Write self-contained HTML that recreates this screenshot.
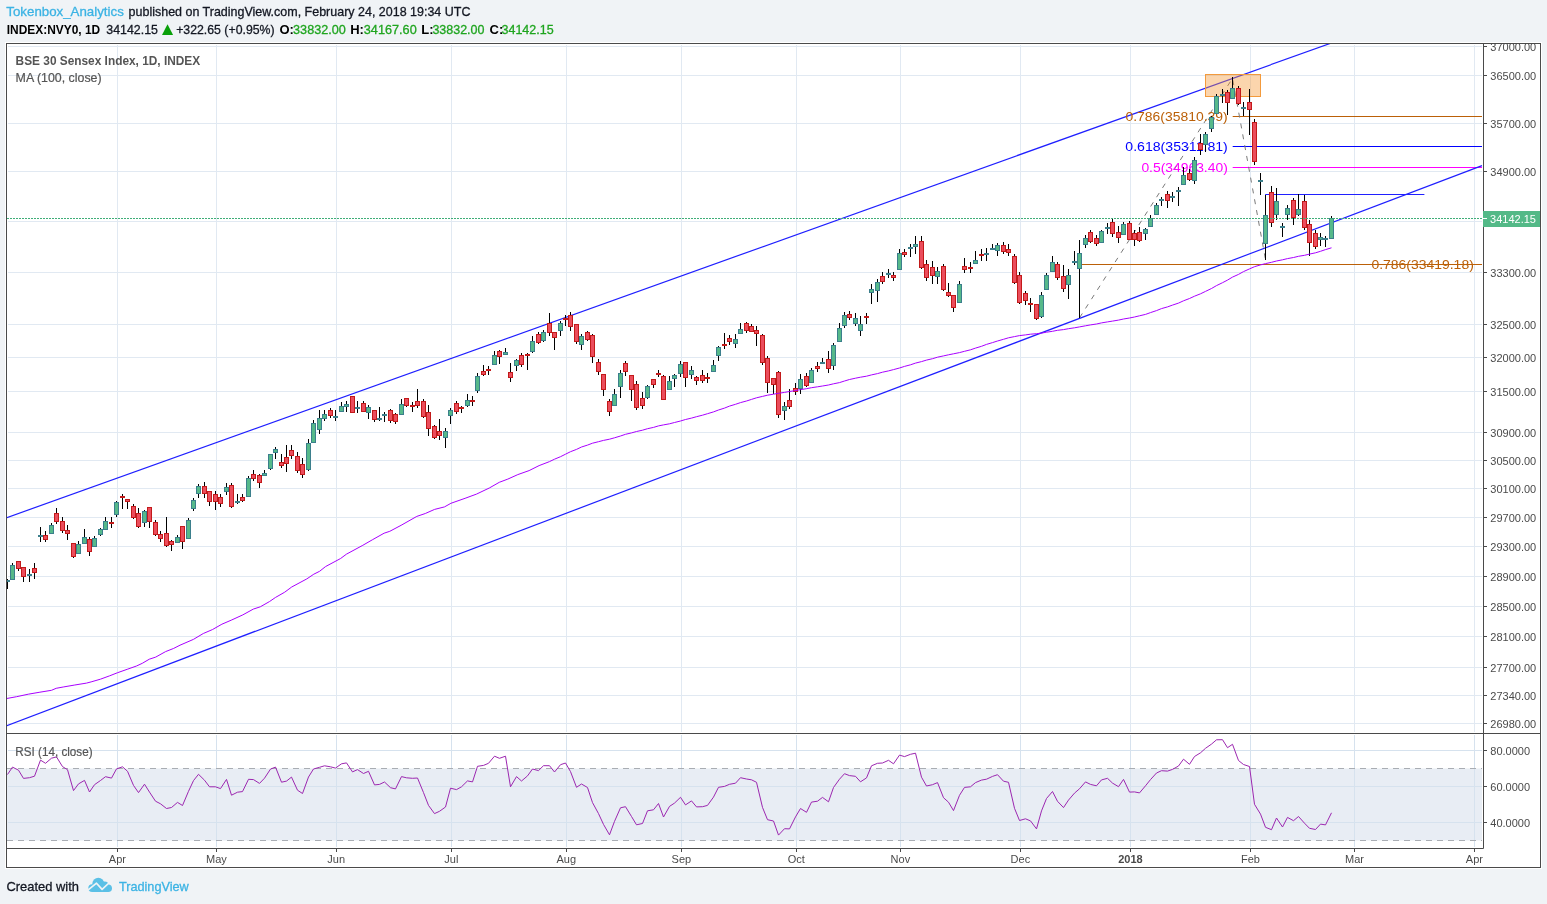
<!DOCTYPE html>
<html><head><meta charset="utf-8"><style>
html,body{margin:0;padding:0;background:#f0f3f6;width:1547px;height:904px;overflow:hidden}
svg{display:block;will-change:transform}
text{font-family:"Liberation Sans",sans-serif}
</style></head><body>
<svg width="1547" height="904" viewBox="0 0 1547 904">
<rect x="0" y="0" width="1547" height="904" fill="#f0f3f6"/>

<text x="6.3" y="16" font-size="13" fill="#3bb3e4" stroke="#3bb3e4" stroke-width="0.3" textLength="117.5" lengthAdjust="spacingAndGlyphs">Tokenbox_Analytics</text>
<text x="128.6" y="16" font-size="13" fill="#131722" stroke="#131722" stroke-width="0.3" textLength="341.8" lengthAdjust="spacingAndGlyphs">published on TradingView.com, February 24, 2018 19:34 UTC</text>
<text x="6.8" y="34" font-size="13" font-weight="bold" fill="#000" textLength="93.4" lengthAdjust="spacingAndGlyphs">INDEX:NVY0, 1D</text>
<text x="106.3" y="34" font-size="13" fill="#131722" stroke="#131722" stroke-width="0.3" textLength="51.6" lengthAdjust="spacingAndGlyphs">34142.15</text>
<path d="M162,35 L167.5,24.2 L173.1,35 Z" fill="#0aa00a"/>
<text x="176.2" y="34" font-size="13" fill="#131722" stroke="#131722" stroke-width="0.3" textLength="98.4" lengthAdjust="spacingAndGlyphs">+322.65 (+0.95%)</text>
<text x="279.5" y="34" font-size="13" font-weight="bold" fill="#000">O:</text>
<text x="293.1" y="34" font-size="13" fill="#1fa51f" stroke="#1fa51f" stroke-width="0.3" textLength="52.7" lengthAdjust="spacingAndGlyphs">33832.00</text>
<text x="350.2" y="34" font-size="13" font-weight="bold" fill="#000">H:</text>
<text x="363.8" y="34" font-size="13" fill="#1fa51f" stroke="#1fa51f" stroke-width="0.3" textLength="52.9" lengthAdjust="spacingAndGlyphs">34167.60</text>
<text x="421.3" y="34" font-size="13" font-weight="bold" fill="#000">L:</text>
<text x="432.4" y="34" font-size="13" fill="#1fa51f" stroke="#1fa51f" stroke-width="0.3" textLength="52.1" lengthAdjust="spacingAndGlyphs">33832.00</text>
<text x="489.5" y="34" font-size="13" font-weight="bold" fill="#000">C:</text>
<text x="501.5" y="34" font-size="13" fill="#1fa51f" stroke="#1fa51f" stroke-width="0.3" textLength="52.1" lengthAdjust="spacingAndGlyphs">34142.15</text>
<rect x="5" y="42" width="1537" height="827" fill="#fff" stroke="none"/>
<rect x="7" y="768.5" width="1475" height="72" fill="#e8edf4"/>
<line x1="8" x2="1482" y1="46.5" y2="46.5" stroke="#e1e9f2" stroke-width="1"/>
<line x1="8" x2="1482" y1="75.5" y2="75.5" stroke="#e1e9f2" stroke-width="1"/>
<line x1="8" x2="1482" y1="123.5" y2="123.5" stroke="#e1e9f2" stroke-width="1"/>
<line x1="8" x2="1482" y1="171.5" y2="171.5" stroke="#e1e9f2" stroke-width="1"/>
<line x1="8" x2="1482" y1="221.5" y2="221.5" stroke="#e1e9f2" stroke-width="1"/>
<line x1="8" x2="1482" y1="272.5" y2="272.5" stroke="#e1e9f2" stroke-width="1"/>
<line x1="8" x2="1482" y1="324.5" y2="324.5" stroke="#e1e9f2" stroke-width="1"/>
<line x1="8" x2="1482" y1="357.5" y2="357.5" stroke="#e1e9f2" stroke-width="1"/>
<line x1="8" x2="1482" y1="391.5" y2="391.5" stroke="#e1e9f2" stroke-width="1"/>
<line x1="8" x2="1482" y1="432.5" y2="432.5" stroke="#e1e9f2" stroke-width="1"/>
<line x1="8" x2="1482" y1="460.5" y2="460.5" stroke="#e1e9f2" stroke-width="1"/>
<line x1="8" x2="1482" y1="488.5" y2="488.5" stroke="#e1e9f2" stroke-width="1"/>
<line x1="8" x2="1482" y1="517.5" y2="517.5" stroke="#e1e9f2" stroke-width="1"/>
<line x1="8" x2="1482" y1="546.5" y2="546.5" stroke="#e1e9f2" stroke-width="1"/>
<line x1="8" x2="1482" y1="576.5" y2="576.5" stroke="#e1e9f2" stroke-width="1"/>
<line x1="8" x2="1482" y1="606.5" y2="606.5" stroke="#e1e9f2" stroke-width="1"/>
<line x1="8" x2="1482" y1="636.5" y2="636.5" stroke="#e1e9f2" stroke-width="1"/>
<line x1="8" x2="1482" y1="667.5" y2="667.5" stroke="#e1e9f2" stroke-width="1"/>
<line x1="8" x2="1482" y1="695.5" y2="695.5" stroke="#e1e9f2" stroke-width="1"/>
<line x1="8" x2="1482" y1="723.5" y2="723.5" stroke="#e1e9f2" stroke-width="1"/>
<line x1="8" x2="1482" y1="750.5" y2="750.5" stroke="#d6e2ee" stroke-width="1"/>
<line x1="8" x2="1482" y1="786.5" y2="786.5" stroke="#d6e2ee" stroke-width="1"/>
<line x1="8" x2="1482" y1="822.5" y2="822.5" stroke="#d6e2ee" stroke-width="1"/>
<line x1="117.5" x2="117.5" y1="45" y2="732" stroke="#e1e9f2" stroke-width="1"/>
<line x1="117.5" x2="117.5" y1="735" y2="847" stroke="#d6e2ee" stroke-width="1"/>
<line x1="216.5" x2="216.5" y1="45" y2="732" stroke="#e1e9f2" stroke-width="1"/>
<line x1="216.5" x2="216.5" y1="735" y2="847" stroke="#d6e2ee" stroke-width="1"/>
<line x1="336.5" x2="336.5" y1="45" y2="732" stroke="#e1e9f2" stroke-width="1"/>
<line x1="336.5" x2="336.5" y1="735" y2="847" stroke="#d6e2ee" stroke-width="1"/>
<line x1="451.5" x2="451.5" y1="45" y2="732" stroke="#e1e9f2" stroke-width="1"/>
<line x1="451.5" x2="451.5" y1="735" y2="847" stroke="#d6e2ee" stroke-width="1"/>
<line x1="566.5" x2="566.5" y1="45" y2="732" stroke="#e1e9f2" stroke-width="1"/>
<line x1="566.5" x2="566.5" y1="735" y2="847" stroke="#d6e2ee" stroke-width="1"/>
<line x1="681.5" x2="681.5" y1="45" y2="732" stroke="#e1e9f2" stroke-width="1"/>
<line x1="681.5" x2="681.5" y1="735" y2="847" stroke="#d6e2ee" stroke-width="1"/>
<line x1="796.5" x2="796.5" y1="45" y2="732" stroke="#e1e9f2" stroke-width="1"/>
<line x1="796.5" x2="796.5" y1="735" y2="847" stroke="#d6e2ee" stroke-width="1"/>
<line x1="900.5" x2="900.5" y1="45" y2="732" stroke="#e1e9f2" stroke-width="1"/>
<line x1="900.5" x2="900.5" y1="735" y2="847" stroke="#d6e2ee" stroke-width="1"/>
<line x1="1020.5" x2="1020.5" y1="45" y2="732" stroke="#e1e9f2" stroke-width="1"/>
<line x1="1020.5" x2="1020.5" y1="735" y2="847" stroke="#d6e2ee" stroke-width="1"/>
<line x1="1130.5" x2="1130.5" y1="45" y2="732" stroke="#e1e9f2" stroke-width="1"/>
<line x1="1130.5" x2="1130.5" y1="735" y2="847" stroke="#d6e2ee" stroke-width="1"/>
<line x1="1250.5" x2="1250.5" y1="45" y2="732" stroke="#e1e9f2" stroke-width="1"/>
<line x1="1250.5" x2="1250.5" y1="735" y2="847" stroke="#d6e2ee" stroke-width="1"/>
<line x1="1354.5" x2="1354.5" y1="45" y2="732" stroke="#e1e9f2" stroke-width="1"/>
<line x1="1354.5" x2="1354.5" y1="735" y2="847" stroke="#d6e2ee" stroke-width="1"/>
<line x1="1474.5" x2="1474.5" y1="45" y2="732" stroke="#e1e9f2" stroke-width="1"/>
<line x1="1474.5" x2="1474.5" y1="735" y2="847" stroke="#d6e2ee" stroke-width="1"/>
<line x1="7" x2="1482" y1="768.5" y2="768.5" stroke="#a9adb3" stroke-width="1" stroke-dasharray="6,5"/>
<line x1="7" x2="1482" y1="840.5" y2="840.5" stroke="#a9adb3" stroke-width="1" stroke-dasharray="6,5"/>
<defs><clipPath id="cm"><rect x="7" y="44" width="1476" height="689"/></clipPath><clipPath id="cr"><rect x="7" y="734" width="1476" height="114"/></clipPath><clipPath id="ct"><rect x="7" y="849" width="1476" height="18"/></clipPath></defs>
<g clip-path="url(#cm)">
<line x1="1081.6" x2="1482" y1="264.5" y2="264.5" stroke="#bb6008" stroke-width="1"/>
<line x1="1232.7" x2="1482" y1="116.5" y2="116.5" stroke="#bb6008" stroke-width="1"/>
<line x1="1232.7" x2="1482" y1="146.5" y2="146.5" stroke="#0000ff" stroke-width="1"/>
<line x1="1232.7" x2="1482" y1="167.5" y2="167.5" stroke="#ff00ff" stroke-width="1"/>
<line x1="1265.2" x2="1424.4" y1="194.5" y2="194.5" stroke="#2020ff" stroke-width="1"/>
<line x1="0.0" y1="520.1" x2="1400.0" y2="18.4" stroke="#1f1fff" stroke-width="1.2"/>
<line x1="0.0" y1="728.2" x2="1482.0" y2="165.6" stroke="#1f1fff" stroke-width="1.2"/>
<path d="M1079.6,317.7 L1232.5,78.3 L1265.3,258.5" stroke="#7a7a7a" stroke-width="1" fill="none" stroke-dasharray="5,6"/>
<rect x="1205.5" y="74.5" width="55" height="22" fill="rgba(245,150,50,0.4)" stroke="#f39a3c" stroke-width="1"/>
<text x="1125.5" y="120.6" font-size="12" fill="#bb6008" textLength="102.2" lengthAdjust="spacingAndGlyphs">0.786(35810.39)</text>
<text x="1125.3" y="150.6" font-size="12" fill="#0000ff" textLength="102.5" lengthAdjust="spacingAndGlyphs">0.618(35311.81)</text>
<text x="1141.4" y="171.6" font-size="12" fill="#ff00ff" textLength="86.4" lengthAdjust="spacingAndGlyphs">0.5(34963.40)</text>
<text x="1371.4" y="268.7" font-size="12" fill="#bb6008" textLength="102.4" lengthAdjust="spacingAndGlyphs">0.786(33419.18)</text>
<path d="M7.5,579V589 M12.5,563V580 M18.5,561V571 M23.5,567V582 M29.5,569V582 M34.5,563V579 M40.5,527V542 M45.5,531V542 M51.5,523V534 M56.5,508V524 M62.5,517V533 M67.5,525V540 M73.5,543V558 M78.5,541V554 M84.5,529V544 M89.5,537V556 M94.5,536V547 M100.5,528V536 M105.5,517V530 M111.5,517V528 M116.5,501V517 M122.5,494V509 M127.5,499V509 M133.5,504V519 M138.5,508V528 M144.5,510V527 M149.5,507V528 M155.5,520V536 M160.5,531V542 M166.5,517V547 M171.5,540V551 M177.5,535V543 M182.5,526V549 M188.5,518V539 M193.5,498V511 M198.5,484V498 M204.5,482V498 M209.5,491V506 M215.5,491V510 M220.5,494V507 M226.5,483V495 M231.5,483V508 M237.5,494V504 M242.5,494V502 M248.5,476V497 M253.5,470V481 M259.5,474V488 M264.5,470V476 M270.5,454V470 M275.5,447V459 M281.5,454V468 M286.5,445V472 M291.5,445V459 M297.5,452V473 M302.5,458V478 M308.5,439V471 M313.5,420V443 M319.5,410V434 M324.5,410V421 M330.5,408V418 M335.5,410V421 M341.5,402V412 M346.5,401V412 M352.5,396V413 M357.5,401V413 M363.5,401V412 M368.5,405V419 M374.5,410V422 M379.5,407V421 M384.5,412V422 M390.5,409V423 M395.5,413V424 M401.5,399V415 M406.5,398V407 M412.5,402V412 M417.5,389V408 M423.5,399V418 M428.5,405V436 M434.5,425V439 M439.5,419V440 M445.5,428V448 M450.5,408V424 M456.5,401V414 M461.5,406V413 M467.5,394V407 M472.5,396V406 M477.5,373V393 M483.5,365V376 M488.5,366V375 M494.5,351V365 M499.5,350V364 M505.5,348V355 M510.5,363V382 M516.5,359V371 M521.5,353V367 M527.5,353V370 M532.5,336V353 M538.5,332V344 M543.5,330V342 M549.5,313V336 M554.5,332V350 M560.5,321V336 M565.5,315V326 M570.5,312V331 M576.5,324V344 M581.5,334V350 M587.5,331V341 M592.5,334V363 M598.5,359V375 M603.5,374V396 M609.5,399V416 M614.5,389V406 M620.5,370V398 M625.5,361V376 M631.5,375V401 M636.5,381V410 M642.5,392V409 M647.5,385V399 M653.5,379V388 M658.5,370V377 M663.5,375V400 M669.5,376V390 M674.5,374V387 M680.5,361V377 M685.5,362V387 M691.5,366V379 M696.5,376V385 M702.5,370V383 M707.5,373V383 M713.5,360V372 M718.5,346V361 M724.5,333V349 M729.5,335V345 M735.5,334V348 M740.5,323V334 M746.5,322V333 M751.5,324V332 M756.5,326V346 M762.5,334V365 M767.5,356V393 M773.5,378V394 M778.5,371V418 M784.5,402V420 M789.5,389V409 M795.5,383V395 M800.5,374V394 M806.5,373V387 M811.5,368V383 M817.5,362V372 M822.5,358V364 M828.5,351V373 M833.5,343V370 M839.5,323V342 M844.5,312V328 M849.5,311V320 M855.5,313V326 M860.5,316V336 M866.5,313V324 M871.5,284V304 M877.5,279V302 M882.5,272V284 M888.5,269V278 M893.5,272V281 M899.5,249V270 M904.5,249V257 M910.5,244V257 M915.5,236V254 M921.5,236V269 M926.5,260V281 M932.5,261V284 M937.5,267V284 M943.5,264V291 M948.5,283V297 M953.5,295V312 M959.5,281V303 M964.5,258V273 M970.5,262V273 M975.5,251V264 M981.5,249V261 M986.5,248V261 M992.5,244V250 M997.5,243V256 M1003.5,242V254 M1008.5,244V256 M1014.5,254V284 M1019.5,272V304 M1025.5,291V305 M1030.5,298V312 M1036.5,304V320 M1041.5,292V318 M1046.5,273V290 M1052.5,256V272 M1057.5,262V280 M1063.5,265V292 M1068.5,269V299 M1074.5,251V265 M1079.5,240V318 M1085.5,235V248 M1090.5,230V243 M1096.5,235V246 M1101.5,230V243 M1107.5,223V234 M1112.5,218V237 M1118.5,226V243 M1123.5,222V235 M1129.5,221V240 M1134.5,230V246 M1139.5,227V242 M1145.5,228V240 M1150.5,215V227 M1156.5,203V215 M1161.5,197V206 M1167.5,191V208 M1172.5,192V202 M1178.5,187V206 M1183.5,167V185 M1189.5,169V181 M1194.5,157V184 M1200.5,134V155 M1205.5,132V152 M1211.5,116V132 M1216.5,94V114 M1222.5,89V103 M1227.5,90V115 M1232.5,77V99 M1238.5,86V105 M1243.5,102V116 M1249.5,89V135 M1254.5,119V165 M1260.5,173V195 M1265.5,195V260 M1271.5,186V227 M1276.5,188V220 M1282.5,223V237 M1287.5,205V220 M1293.5,198V225 M1298.5,194V216 M1304.5,195V230 M1309.5,220V256 M1315.5,230V249 M1320.5,233V246 M1325.5,236V247 M1331.5,216V239" stroke="#000" stroke-width="1" fill="none"/>
<rect x="7" y="580" width="3" height="2" fill="#3b7f8c"/>
<rect x="10" y="565" width="5" height="15" fill="#3b7f8c"/>
<rect x="11" y="566" width="3" height="13" fill="#56b98a"/>
<rect x="16" y="561" width="5" height="8" fill="#c21a1a"/>
<rect x="17" y="562" width="3" height="6" fill="#eb4d5c"/>
<rect x="21" y="567" width="5" height="10" fill="#c21a1a"/>
<rect x="22" y="568" width="3" height="8" fill="#eb4d5c"/>
<rect x="27" y="574" width="5" height="2" fill="#3b7f8c"/>
<rect x="32" y="568" width="5" height="5" fill="#c21a1a"/>
<rect x="33" y="569" width="3" height="3" fill="#eb4d5c"/>
<rect x="38" y="535" width="5" height="2" fill="#3b7f8c"/>
<rect x="43" y="535" width="5" height="5" fill="#c21a1a"/>
<rect x="44" y="536" width="3" height="3" fill="#eb4d5c"/>
<rect x="49" y="525" width="5" height="9" fill="#3b7f8c"/>
<rect x="50" y="526" width="3" height="7" fill="#56b98a"/>
<rect x="54" y="513" width="5" height="9" fill="#c21a1a"/>
<rect x="55" y="514" width="3" height="7" fill="#eb4d5c"/>
<rect x="60" y="521" width="5" height="10" fill="#c21a1a"/>
<rect x="61" y="522" width="3" height="8" fill="#eb4d5c"/>
<rect x="65" y="530" width="5" height="4" fill="#c21a1a"/>
<rect x="66" y="531" width="3" height="2" fill="#eb4d5c"/>
<rect x="71" y="543" width="5" height="14" fill="#c21a1a"/>
<rect x="72" y="544" width="3" height="12" fill="#eb4d5c"/>
<rect x="76" y="544" width="5" height="10" fill="#3b7f8c"/>
<rect x="77" y="545" width="3" height="8" fill="#56b98a"/>
<rect x="82" y="537" width="5" height="7" fill="#3b7f8c"/>
<rect x="83" y="538" width="3" height="5" fill="#56b98a"/>
<rect x="87" y="539" width="5" height="13" fill="#c21a1a"/>
<rect x="88" y="540" width="3" height="11" fill="#eb4d5c"/>
<rect x="92" y="538" width="5" height="9" fill="#3b7f8c"/>
<rect x="93" y="539" width="3" height="7" fill="#56b98a"/>
<rect x="98" y="529" width="5" height="6" fill="#3b7f8c"/>
<rect x="99" y="530" width="3" height="4" fill="#56b98a"/>
<rect x="103" y="521" width="5" height="9" fill="#3b7f8c"/>
<rect x="104" y="522" width="3" height="7" fill="#56b98a"/>
<rect x="109" y="522" width="5" height="2" fill="#c21a1a"/>
<rect x="114" y="502" width="5" height="13" fill="#3b7f8c"/>
<rect x="115" y="503" width="3" height="11" fill="#56b98a"/>
<rect x="120" y="496" width="5" height="2" fill="#c21a1a"/>
<rect x="125" y="499" width="5" height="3" fill="#c21a1a"/>
<rect x="126" y="500" width="3" height="1" fill="#eb4d5c"/>
<rect x="131" y="506" width="5" height="12" fill="#c21a1a"/>
<rect x="132" y="507" width="3" height="10" fill="#eb4d5c"/>
<rect x="136" y="513" width="5" height="14" fill="#c21a1a"/>
<rect x="137" y="514" width="3" height="12" fill="#eb4d5c"/>
<rect x="142" y="511" width="5" height="12" fill="#3b7f8c"/>
<rect x="143" y="512" width="3" height="10" fill="#56b98a"/>
<rect x="147" y="507" width="5" height="15" fill="#c21a1a"/>
<rect x="148" y="508" width="3" height="13" fill="#eb4d5c"/>
<rect x="153" y="522" width="5" height="13" fill="#c21a1a"/>
<rect x="154" y="523" width="3" height="11" fill="#eb4d5c"/>
<rect x="158" y="534" width="5" height="5" fill="#c21a1a"/>
<rect x="159" y="535" width="3" height="3" fill="#eb4d5c"/>
<rect x="164" y="533" width="5" height="13" fill="#c21a1a"/>
<rect x="165" y="534" width="3" height="11" fill="#eb4d5c"/>
<rect x="169" y="541" width="5" height="4" fill="#c21a1a"/>
<rect x="170" y="542" width="3" height="2" fill="#eb4d5c"/>
<rect x="175" y="537" width="5" height="6" fill="#3b7f8c"/>
<rect x="176" y="538" width="3" height="4" fill="#56b98a"/>
<rect x="180" y="526" width="5" height="16" fill="#c21a1a"/>
<rect x="181" y="527" width="3" height="14" fill="#eb4d5c"/>
<rect x="186" y="520" width="5" height="19" fill="#3b7f8c"/>
<rect x="187" y="521" width="3" height="17" fill="#56b98a"/>
<rect x="191" y="500" width="5" height="9" fill="#3b7f8c"/>
<rect x="192" y="501" width="3" height="7" fill="#56b98a"/>
<rect x="196" y="486" width="5" height="8" fill="#3b7f8c"/>
<rect x="197" y="487" width="3" height="6" fill="#56b98a"/>
<rect x="202" y="486" width="5" height="8" fill="#c21a1a"/>
<rect x="203" y="487" width="3" height="6" fill="#eb4d5c"/>
<rect x="207" y="491" width="5" height="11" fill="#c21a1a"/>
<rect x="208" y="492" width="3" height="9" fill="#eb4d5c"/>
<rect x="213" y="494" width="5" height="8" fill="#c21a1a"/>
<rect x="214" y="495" width="3" height="6" fill="#eb4d5c"/>
<rect x="218" y="497" width="5" height="7" fill="#c21a1a"/>
<rect x="219" y="498" width="3" height="5" fill="#eb4d5c"/>
<rect x="224" y="487" width="5" height="5" fill="#3b7f8c"/>
<rect x="225" y="488" width="3" height="3" fill="#56b98a"/>
<rect x="229" y="485" width="5" height="22" fill="#c21a1a"/>
<rect x="230" y="486" width="3" height="20" fill="#eb4d5c"/>
<rect x="235" y="501" width="5" height="2" fill="#3b7f8c"/>
<rect x="240" y="497" width="5" height="4" fill="#c21a1a"/>
<rect x="241" y="498" width="3" height="2" fill="#eb4d5c"/>
<rect x="246" y="478" width="5" height="19" fill="#3b7f8c"/>
<rect x="247" y="479" width="3" height="17" fill="#56b98a"/>
<rect x="251" y="474" width="5" height="5" fill="#c21a1a"/>
<rect x="252" y="475" width="3" height="3" fill="#eb4d5c"/>
<rect x="257" y="475" width="5" height="8" fill="#c21a1a"/>
<rect x="258" y="476" width="3" height="6" fill="#eb4d5c"/>
<rect x="262" y="473" width="5" height="3" fill="#3b7f8c"/>
<rect x="263" y="474" width="3" height="1" fill="#56b98a"/>
<rect x="268" y="454" width="5" height="15" fill="#3b7f8c"/>
<rect x="269" y="455" width="3" height="13" fill="#56b98a"/>
<rect x="273" y="449" width="5" height="4" fill="#3b7f8c"/>
<rect x="274" y="450" width="3" height="2" fill="#56b98a"/>
<rect x="279" y="462" width="5" height="4" fill="#c21a1a"/>
<rect x="280" y="463" width="3" height="2" fill="#eb4d5c"/>
<rect x="284" y="457" width="5" height="7" fill="#c21a1a"/>
<rect x="285" y="458" width="3" height="5" fill="#eb4d5c"/>
<rect x="289" y="450" width="5" height="6" fill="#c21a1a"/>
<rect x="290" y="451" width="3" height="4" fill="#eb4d5c"/>
<rect x="295" y="456" width="5" height="15" fill="#c21a1a"/>
<rect x="296" y="457" width="3" height="13" fill="#eb4d5c"/>
<rect x="300" y="464" width="5" height="11" fill="#c21a1a"/>
<rect x="301" y="465" width="3" height="9" fill="#eb4d5c"/>
<rect x="306" y="443" width="5" height="27" fill="#3b7f8c"/>
<rect x="307" y="444" width="3" height="25" fill="#56b98a"/>
<rect x="311" y="423" width="5" height="20" fill="#3b7f8c"/>
<rect x="312" y="424" width="3" height="18" fill="#56b98a"/>
<rect x="317" y="418" width="5" height="12" fill="#3b7f8c"/>
<rect x="318" y="419" width="3" height="10" fill="#56b98a"/>
<rect x="322" y="414" width="5" height="5" fill="#3b7f8c"/>
<rect x="323" y="415" width="3" height="3" fill="#56b98a"/>
<rect x="328" y="410" width="5" height="6" fill="#c21a1a"/>
<rect x="329" y="411" width="3" height="4" fill="#eb4d5c"/>
<rect x="333" y="416" width="5" height="2" fill="#3b7f8c"/>
<rect x="339" y="406" width="5" height="6" fill="#3b7f8c"/>
<rect x="340" y="407" width="3" height="4" fill="#56b98a"/>
<rect x="344" y="404" width="5" height="3" fill="#3b7f8c"/>
<rect x="345" y="405" width="3" height="1" fill="#56b98a"/>
<rect x="350" y="396" width="5" height="17" fill="#c21a1a"/>
<rect x="351" y="397" width="3" height="15" fill="#eb4d5c"/>
<rect x="355" y="407" width="5" height="2" fill="#3b7f8c"/>
<rect x="361" y="403" width="5" height="9" fill="#c21a1a"/>
<rect x="362" y="404" width="3" height="7" fill="#eb4d5c"/>
<rect x="366" y="407" width="5" height="6" fill="#3b7f8c"/>
<rect x="367" y="408" width="3" height="4" fill="#56b98a"/>
<rect x="372" y="410" width="5" height="10" fill="#c21a1a"/>
<rect x="373" y="411" width="3" height="8" fill="#eb4d5c"/>
<rect x="377" y="418" width="5" height="2" fill="#3b7f8c"/>
<rect x="382" y="414" width="5" height="2" fill="#3b7f8c"/>
<rect x="388" y="410" width="5" height="11" fill="#c21a1a"/>
<rect x="389" y="411" width="3" height="9" fill="#eb4d5c"/>
<rect x="393" y="414" width="5" height="8" fill="#c21a1a"/>
<rect x="394" y="415" width="3" height="6" fill="#eb4d5c"/>
<rect x="399" y="404" width="5" height="11" fill="#3b7f8c"/>
<rect x="400" y="405" width="3" height="9" fill="#56b98a"/>
<rect x="404" y="398" width="5" height="8" fill="#c21a1a"/>
<rect x="405" y="399" width="3" height="6" fill="#eb4d5c"/>
<rect x="410" y="405" width="5" height="2" fill="#c21a1a"/>
<rect x="415" y="401" width="5" height="5" fill="#c21a1a"/>
<rect x="416" y="402" width="3" height="3" fill="#eb4d5c"/>
<rect x="421" y="401" width="5" height="16" fill="#c21a1a"/>
<rect x="422" y="402" width="3" height="14" fill="#eb4d5c"/>
<rect x="426" y="412" width="5" height="17" fill="#c21a1a"/>
<rect x="427" y="413" width="3" height="15" fill="#eb4d5c"/>
<rect x="432" y="426" width="5" height="12" fill="#c21a1a"/>
<rect x="433" y="427" width="3" height="10" fill="#eb4d5c"/>
<rect x="437" y="431" width="5" height="5" fill="#c21a1a"/>
<rect x="438" y="432" width="3" height="3" fill="#eb4d5c"/>
<rect x="443" y="431" width="5" height="7" fill="#3b7f8c"/>
<rect x="444" y="432" width="3" height="5" fill="#56b98a"/>
<rect x="448" y="410" width="5" height="6" fill="#3b7f8c"/>
<rect x="449" y="411" width="3" height="4" fill="#56b98a"/>
<rect x="454" y="403" width="5" height="9" fill="#c21a1a"/>
<rect x="455" y="404" width="3" height="7" fill="#eb4d5c"/>
<rect x="459" y="407" width="5" height="2" fill="#c21a1a"/>
<rect x="465" y="400" width="5" height="6" fill="#3b7f8c"/>
<rect x="466" y="401" width="3" height="4" fill="#56b98a"/>
<rect x="470" y="400" width="5" height="2" fill="#c21a1a"/>
<rect x="475" y="376" width="5" height="15" fill="#3b7f8c"/>
<rect x="476" y="377" width="3" height="13" fill="#56b98a"/>
<rect x="481" y="371" width="5" height="4" fill="#c21a1a"/>
<rect x="482" y="372" width="3" height="2" fill="#eb4d5c"/>
<rect x="486" y="369" width="5" height="2" fill="#c21a1a"/>
<rect x="492" y="355" width="5" height="10" fill="#3b7f8c"/>
<rect x="493" y="356" width="3" height="8" fill="#56b98a"/>
<rect x="497" y="351" width="5" height="6" fill="#c21a1a"/>
<rect x="498" y="352" width="3" height="4" fill="#eb4d5c"/>
<rect x="503" y="352" width="5" height="3" fill="#3b7f8c"/>
<rect x="504" y="353" width="3" height="1" fill="#56b98a"/>
<rect x="508" y="372" width="5" height="6" fill="#c21a1a"/>
<rect x="509" y="373" width="3" height="4" fill="#eb4d5c"/>
<rect x="514" y="360" width="5" height="6" fill="#3b7f8c"/>
<rect x="515" y="361" width="3" height="4" fill="#56b98a"/>
<rect x="519" y="355" width="5" height="10" fill="#c21a1a"/>
<rect x="520" y="356" width="3" height="8" fill="#eb4d5c"/>
<rect x="525" y="354" width="5" height="2" fill="#c21a1a"/>
<rect x="530" y="341" width="5" height="11" fill="#3b7f8c"/>
<rect x="531" y="342" width="3" height="9" fill="#56b98a"/>
<rect x="536" y="334" width="5" height="9" fill="#c21a1a"/>
<rect x="537" y="335" width="3" height="7" fill="#eb4d5c"/>
<rect x="541" y="332" width="5" height="9" fill="#3b7f8c"/>
<rect x="542" y="333" width="3" height="7" fill="#56b98a"/>
<rect x="547" y="323" width="5" height="10" fill="#c21a1a"/>
<rect x="548" y="324" width="3" height="8" fill="#eb4d5c"/>
<rect x="552" y="332" width="5" height="6" fill="#c21a1a"/>
<rect x="553" y="333" width="3" height="4" fill="#eb4d5c"/>
<rect x="558" y="323" width="5" height="8" fill="#3b7f8c"/>
<rect x="559" y="324" width="3" height="6" fill="#56b98a"/>
<rect x="563" y="318" width="5" height="2" fill="#c21a1a"/>
<rect x="568" y="315" width="5" height="12" fill="#c21a1a"/>
<rect x="569" y="316" width="3" height="10" fill="#eb4d5c"/>
<rect x="574" y="324" width="5" height="18" fill="#c21a1a"/>
<rect x="575" y="325" width="3" height="16" fill="#eb4d5c"/>
<rect x="579" y="336" width="5" height="9" fill="#3b7f8c"/>
<rect x="580" y="337" width="3" height="7" fill="#56b98a"/>
<rect x="585" y="332" width="5" height="8" fill="#c21a1a"/>
<rect x="586" y="333" width="3" height="6" fill="#eb4d5c"/>
<rect x="590" y="335" width="5" height="22" fill="#c21a1a"/>
<rect x="591" y="336" width="3" height="20" fill="#eb4d5c"/>
<rect x="596" y="362" width="5" height="10" fill="#c21a1a"/>
<rect x="597" y="363" width="3" height="8" fill="#eb4d5c"/>
<rect x="601" y="374" width="5" height="16" fill="#c21a1a"/>
<rect x="602" y="375" width="3" height="14" fill="#eb4d5c"/>
<rect x="607" y="401" width="5" height="11" fill="#c21a1a"/>
<rect x="608" y="402" width="3" height="9" fill="#eb4d5c"/>
<rect x="612" y="394" width="5" height="12" fill="#3b7f8c"/>
<rect x="613" y="395" width="3" height="10" fill="#56b98a"/>
<rect x="618" y="373" width="5" height="14" fill="#3b7f8c"/>
<rect x="619" y="374" width="3" height="12" fill="#56b98a"/>
<rect x="623" y="363" width="5" height="9" fill="#c21a1a"/>
<rect x="624" y="364" width="3" height="7" fill="#eb4d5c"/>
<rect x="629" y="375" width="5" height="15" fill="#c21a1a"/>
<rect x="630" y="376" width="3" height="13" fill="#eb4d5c"/>
<rect x="634" y="384" width="5" height="24" fill="#c21a1a"/>
<rect x="635" y="385" width="3" height="22" fill="#eb4d5c"/>
<rect x="640" y="398" width="5" height="8" fill="#c21a1a"/>
<rect x="641" y="399" width="3" height="6" fill="#eb4d5c"/>
<rect x="645" y="386" width="5" height="12" fill="#3b7f8c"/>
<rect x="646" y="387" width="3" height="10" fill="#56b98a"/>
<rect x="651" y="379" width="5" height="6" fill="#c21a1a"/>
<rect x="652" y="380" width="3" height="4" fill="#eb4d5c"/>
<rect x="656" y="373" width="5" height="2" fill="#c21a1a"/>
<rect x="661" y="376" width="5" height="24" fill="#c21a1a"/>
<rect x="662" y="377" width="3" height="22" fill="#eb4d5c"/>
<rect x="667" y="381" width="5" height="9" fill="#3b7f8c"/>
<rect x="668" y="382" width="3" height="7" fill="#56b98a"/>
<rect x="672" y="375" width="5" height="4" fill="#3b7f8c"/>
<rect x="673" y="376" width="3" height="2" fill="#56b98a"/>
<rect x="678" y="364" width="5" height="10" fill="#3b7f8c"/>
<rect x="679" y="365" width="3" height="8" fill="#56b98a"/>
<rect x="683" y="362" width="5" height="16" fill="#c21a1a"/>
<rect x="684" y="363" width="3" height="14" fill="#eb4d5c"/>
<rect x="689" y="370" width="5" height="5" fill="#3b7f8c"/>
<rect x="690" y="371" width="3" height="3" fill="#56b98a"/>
<rect x="694" y="377" width="5" height="4" fill="#c21a1a"/>
<rect x="695" y="378" width="3" height="2" fill="#eb4d5c"/>
<rect x="700" y="375" width="5" height="6" fill="#c21a1a"/>
<rect x="701" y="376" width="3" height="4" fill="#eb4d5c"/>
<rect x="705" y="377" width="5" height="2" fill="#c21a1a"/>
<rect x="711" y="365" width="5" height="7" fill="#3b7f8c"/>
<rect x="712" y="366" width="3" height="5" fill="#56b98a"/>
<rect x="716" y="347" width="5" height="9" fill="#3b7f8c"/>
<rect x="717" y="348" width="3" height="7" fill="#56b98a"/>
<rect x="722" y="344" width="5" height="2" fill="#c21a1a"/>
<rect x="727" y="338" width="5" height="4" fill="#c21a1a"/>
<rect x="728" y="339" width="3" height="2" fill="#eb4d5c"/>
<rect x="733" y="339" width="5" height="5" fill="#3b7f8c"/>
<rect x="734" y="340" width="3" height="3" fill="#56b98a"/>
<rect x="738" y="329" width="5" height="5" fill="#3b7f8c"/>
<rect x="739" y="330" width="3" height="3" fill="#56b98a"/>
<rect x="744" y="323" width="5" height="8" fill="#c21a1a"/>
<rect x="745" y="324" width="3" height="6" fill="#eb4d5c"/>
<rect x="749" y="326" width="5" height="6" fill="#c21a1a"/>
<rect x="750" y="327" width="3" height="4" fill="#eb4d5c"/>
<rect x="754" y="330" width="5" height="4" fill="#c21a1a"/>
<rect x="755" y="331" width="3" height="2" fill="#eb4d5c"/>
<rect x="760" y="335" width="5" height="28" fill="#c21a1a"/>
<rect x="761" y="336" width="3" height="26" fill="#eb4d5c"/>
<rect x="765" y="358" width="5" height="25" fill="#c21a1a"/>
<rect x="766" y="359" width="3" height="23" fill="#eb4d5c"/>
<rect x="771" y="378" width="5" height="7" fill="#c21a1a"/>
<rect x="772" y="379" width="3" height="5" fill="#eb4d5c"/>
<rect x="776" y="372" width="5" height="43" fill="#c21a1a"/>
<rect x="777" y="373" width="3" height="41" fill="#eb4d5c"/>
<rect x="782" y="406" width="5" height="5" fill="#3b7f8c"/>
<rect x="783" y="407" width="3" height="3" fill="#56b98a"/>
<rect x="787" y="400" width="5" height="7" fill="#c21a1a"/>
<rect x="788" y="401" width="3" height="5" fill="#eb4d5c"/>
<rect x="793" y="388" width="5" height="4" fill="#c21a1a"/>
<rect x="794" y="389" width="3" height="2" fill="#eb4d5c"/>
<rect x="798" y="379" width="5" height="10" fill="#3b7f8c"/>
<rect x="799" y="380" width="3" height="8" fill="#56b98a"/>
<rect x="804" y="376" width="5" height="10" fill="#c21a1a"/>
<rect x="805" y="377" width="3" height="8" fill="#eb4d5c"/>
<rect x="809" y="370" width="5" height="13" fill="#3b7f8c"/>
<rect x="810" y="371" width="3" height="11" fill="#56b98a"/>
<rect x="815" y="366" width="5" height="3" fill="#c21a1a"/>
<rect x="816" y="367" width="3" height="1" fill="#eb4d5c"/>
<rect x="820" y="362" width="5" height="2" fill="#3b7f8c"/>
<rect x="826" y="359" width="5" height="10" fill="#c21a1a"/>
<rect x="827" y="360" width="3" height="8" fill="#eb4d5c"/>
<rect x="831" y="345" width="5" height="21" fill="#3b7f8c"/>
<rect x="832" y="346" width="3" height="19" fill="#56b98a"/>
<rect x="837" y="328" width="5" height="14" fill="#3b7f8c"/>
<rect x="838" y="329" width="3" height="12" fill="#56b98a"/>
<rect x="842" y="315" width="5" height="11" fill="#3b7f8c"/>
<rect x="843" y="316" width="3" height="9" fill="#56b98a"/>
<rect x="847" y="314" width="5" height="4" fill="#c21a1a"/>
<rect x="848" y="315" width="3" height="2" fill="#eb4d5c"/>
<rect x="853" y="318" width="5" height="6" fill="#3b7f8c"/>
<rect x="854" y="319" width="3" height="4" fill="#56b98a"/>
<rect x="858" y="324" width="5" height="7" fill="#3b7f8c"/>
<rect x="859" y="325" width="3" height="5" fill="#56b98a"/>
<rect x="864" y="316" width="5" height="2" fill="#c21a1a"/>
<rect x="869" y="289" width="5" height="4" fill="#3b7f8c"/>
<rect x="870" y="290" width="3" height="2" fill="#56b98a"/>
<rect x="875" y="282" width="5" height="9" fill="#3b7f8c"/>
<rect x="876" y="283" width="3" height="7" fill="#56b98a"/>
<rect x="880" y="276" width="5" height="6" fill="#c21a1a"/>
<rect x="881" y="277" width="3" height="4" fill="#eb4d5c"/>
<rect x="886" y="273" width="5" height="2" fill="#3b7f8c"/>
<rect x="891" y="275" width="5" height="3" fill="#c21a1a"/>
<rect x="892" y="276" width="3" height="1" fill="#eb4d5c"/>
<rect x="897" y="253" width="5" height="17" fill="#3b7f8c"/>
<rect x="898" y="254" width="3" height="15" fill="#56b98a"/>
<rect x="902" y="252" width="5" height="3" fill="#c21a1a"/>
<rect x="903" y="253" width="3" height="1" fill="#eb4d5c"/>
<rect x="908" y="247" width="5" height="2" fill="#3b7f8c"/>
<rect x="913" y="244" width="5" height="3" fill="#3b7f8c"/>
<rect x="914" y="245" width="3" height="1" fill="#56b98a"/>
<rect x="919" y="241" width="5" height="27" fill="#c21a1a"/>
<rect x="920" y="242" width="3" height="25" fill="#eb4d5c"/>
<rect x="924" y="264" width="5" height="14" fill="#c21a1a"/>
<rect x="925" y="265" width="3" height="12" fill="#eb4d5c"/>
<rect x="930" y="267" width="5" height="9" fill="#c21a1a"/>
<rect x="931" y="268" width="3" height="7" fill="#eb4d5c"/>
<rect x="935" y="271" width="5" height="6" fill="#3b7f8c"/>
<rect x="936" y="272" width="3" height="4" fill="#56b98a"/>
<rect x="941" y="266" width="5" height="24" fill="#c21a1a"/>
<rect x="942" y="267" width="3" height="22" fill="#eb4d5c"/>
<rect x="946" y="292" width="5" height="4" fill="#c21a1a"/>
<rect x="947" y="293" width="3" height="2" fill="#eb4d5c"/>
<rect x="951" y="295" width="5" height="13" fill="#c21a1a"/>
<rect x="952" y="296" width="3" height="11" fill="#eb4d5c"/>
<rect x="957" y="284" width="5" height="19" fill="#3b7f8c"/>
<rect x="958" y="285" width="3" height="17" fill="#56b98a"/>
<rect x="962" y="266" width="5" height="4" fill="#c21a1a"/>
<rect x="963" y="267" width="3" height="2" fill="#eb4d5c"/>
<rect x="968" y="267" width="5" height="2" fill="#c21a1a"/>
<rect x="973" y="260" width="5" height="4" fill="#3b7f8c"/>
<rect x="974" y="261" width="3" height="2" fill="#56b98a"/>
<rect x="979" y="254" width="5" height="2" fill="#c21a1a"/>
<rect x="984" y="253" width="5" height="2" fill="#3b7f8c"/>
<rect x="990" y="248" width="5" height="2" fill="#3b7f8c"/>
<rect x="995" y="245" width="5" height="6" fill="#3b7f8c"/>
<rect x="996" y="246" width="3" height="4" fill="#56b98a"/>
<rect x="1001" y="245" width="5" height="7" fill="#c21a1a"/>
<rect x="1002" y="246" width="3" height="5" fill="#eb4d5c"/>
<rect x="1006" y="249" width="5" height="4" fill="#c21a1a"/>
<rect x="1007" y="250" width="3" height="2" fill="#eb4d5c"/>
<rect x="1012" y="256" width="5" height="27" fill="#c21a1a"/>
<rect x="1013" y="257" width="3" height="25" fill="#eb4d5c"/>
<rect x="1017" y="275" width="5" height="28" fill="#c21a1a"/>
<rect x="1018" y="276" width="3" height="26" fill="#eb4d5c"/>
<rect x="1023" y="293" width="5" height="8" fill="#c21a1a"/>
<rect x="1024" y="294" width="3" height="6" fill="#eb4d5c"/>
<rect x="1028" y="303" width="5" height="2" fill="#c21a1a"/>
<rect x="1034" y="304" width="5" height="15" fill="#c21a1a"/>
<rect x="1035" y="305" width="3" height="13" fill="#eb4d5c"/>
<rect x="1039" y="295" width="5" height="22" fill="#3b7f8c"/>
<rect x="1040" y="296" width="3" height="20" fill="#56b98a"/>
<rect x="1044" y="275" width="5" height="15" fill="#3b7f8c"/>
<rect x="1045" y="276" width="3" height="13" fill="#56b98a"/>
<rect x="1050" y="262" width="5" height="10" fill="#3b7f8c"/>
<rect x="1051" y="263" width="3" height="8" fill="#56b98a"/>
<rect x="1055" y="264" width="5" height="14" fill="#c21a1a"/>
<rect x="1056" y="265" width="3" height="12" fill="#eb4d5c"/>
<rect x="1061" y="276" width="5" height="13" fill="#c21a1a"/>
<rect x="1062" y="277" width="3" height="11" fill="#eb4d5c"/>
<rect x="1066" y="275" width="5" height="10" fill="#3b7f8c"/>
<rect x="1067" y="276" width="3" height="8" fill="#56b98a"/>
<rect x="1072" y="261" width="5" height="2" fill="#3b7f8c"/>
<rect x="1077" y="253" width="5" height="16" fill="#3b7f8c"/>
<rect x="1078" y="254" width="3" height="14" fill="#56b98a"/>
<rect x="1083" y="238" width="5" height="7" fill="#3b7f8c"/>
<rect x="1084" y="239" width="3" height="5" fill="#56b98a"/>
<rect x="1088" y="232" width="5" height="10" fill="#c21a1a"/>
<rect x="1089" y="233" width="3" height="8" fill="#eb4d5c"/>
<rect x="1094" y="238" width="5" height="6" fill="#c21a1a"/>
<rect x="1095" y="239" width="3" height="4" fill="#eb4d5c"/>
<rect x="1099" y="231" width="5" height="12" fill="#3b7f8c"/>
<rect x="1100" y="232" width="3" height="10" fill="#56b98a"/>
<rect x="1105" y="227" width="5" height="2" fill="#3b7f8c"/>
<rect x="1110" y="222" width="5" height="12" fill="#c21a1a"/>
<rect x="1111" y="223" width="3" height="10" fill="#eb4d5c"/>
<rect x="1116" y="232" width="5" height="6" fill="#c21a1a"/>
<rect x="1117" y="233" width="3" height="4" fill="#eb4d5c"/>
<rect x="1121" y="224" width="5" height="11" fill="#3b7f8c"/>
<rect x="1122" y="225" width="3" height="9" fill="#56b98a"/>
<rect x="1127" y="223" width="5" height="17" fill="#c21a1a"/>
<rect x="1128" y="224" width="3" height="15" fill="#eb4d5c"/>
<rect x="1132" y="233" width="5" height="7" fill="#c21a1a"/>
<rect x="1133" y="234" width="3" height="5" fill="#eb4d5c"/>
<rect x="1137" y="232" width="5" height="9" fill="#c21a1a"/>
<rect x="1138" y="233" width="3" height="7" fill="#eb4d5c"/>
<rect x="1143" y="229" width="5" height="5" fill="#3b7f8c"/>
<rect x="1144" y="230" width="3" height="3" fill="#56b98a"/>
<rect x="1148" y="218" width="5" height="9" fill="#3b7f8c"/>
<rect x="1149" y="219" width="3" height="7" fill="#56b98a"/>
<rect x="1154" y="205" width="5" height="10" fill="#3b7f8c"/>
<rect x="1155" y="206" width="3" height="8" fill="#56b98a"/>
<rect x="1159" y="199" width="5" height="2" fill="#3b7f8c"/>
<rect x="1165" y="194" width="5" height="7" fill="#c21a1a"/>
<rect x="1166" y="195" width="3" height="5" fill="#eb4d5c"/>
<rect x="1170" y="196" width="5" height="2" fill="#3b7f8c"/>
<rect x="1176" y="190" width="5" height="2" fill="#3b7f8c"/>
<rect x="1181" y="175" width="5" height="10" fill="#3b7f8c"/>
<rect x="1182" y="176" width="3" height="8" fill="#56b98a"/>
<rect x="1187" y="173" width="5" height="7" fill="#c21a1a"/>
<rect x="1188" y="174" width="3" height="5" fill="#eb4d5c"/>
<rect x="1192" y="160" width="5" height="21" fill="#3b7f8c"/>
<rect x="1193" y="161" width="3" height="19" fill="#56b98a"/>
<rect x="1198" y="143" width="5" height="7" fill="#c21a1a"/>
<rect x="1199" y="144" width="3" height="5" fill="#eb4d5c"/>
<rect x="1203" y="134" width="5" height="11" fill="#3b7f8c"/>
<rect x="1204" y="135" width="3" height="9" fill="#56b98a"/>
<rect x="1209" y="117" width="5" height="12" fill="#3b7f8c"/>
<rect x="1210" y="118" width="3" height="10" fill="#56b98a"/>
<rect x="1214" y="96" width="5" height="18" fill="#3b7f8c"/>
<rect x="1215" y="97" width="3" height="16" fill="#56b98a"/>
<rect x="1220" y="94" width="5" height="2" fill="#3b7f8c"/>
<rect x="1225" y="92" width="5" height="11" fill="#c21a1a"/>
<rect x="1226" y="93" width="3" height="9" fill="#eb4d5c"/>
<rect x="1230" y="88" width="5" height="11" fill="#3b7f8c"/>
<rect x="1231" y="89" width="3" height="9" fill="#56b98a"/>
<rect x="1236" y="88" width="5" height="16" fill="#c21a1a"/>
<rect x="1237" y="89" width="3" height="14" fill="#eb4d5c"/>
<rect x="1241" y="107" width="5" height="2" fill="#3b7f8c"/>
<rect x="1247" y="102" width="5" height="8" fill="#c21a1a"/>
<rect x="1248" y="103" width="3" height="6" fill="#eb4d5c"/>
<rect x="1252" y="122" width="5" height="40" fill="#c21a1a"/>
<rect x="1253" y="123" width="3" height="38" fill="#eb4d5c"/>
<rect x="1258" y="180" width="5" height="2" fill="#3b7f8c"/>
<rect x="1263" y="215" width="5" height="29" fill="#3b7f8c"/>
<rect x="1264" y="216" width="3" height="27" fill="#56b98a"/>
<rect x="1269" y="192" width="5" height="31" fill="#c21a1a"/>
<rect x="1270" y="193" width="3" height="29" fill="#eb4d5c"/>
<rect x="1274" y="201" width="5" height="14" fill="#3b7f8c"/>
<rect x="1275" y="202" width="3" height="12" fill="#56b98a"/>
<rect x="1280" y="226" width="5" height="2" fill="#3b7f8c"/>
<rect x="1285" y="208" width="5" height="7" fill="#3b7f8c"/>
<rect x="1286" y="209" width="3" height="5" fill="#56b98a"/>
<rect x="1291" y="200" width="5" height="18" fill="#c21a1a"/>
<rect x="1292" y="201" width="3" height="16" fill="#eb4d5c"/>
<rect x="1296" y="209" width="5" height="6" fill="#3b7f8c"/>
<rect x="1297" y="210" width="3" height="4" fill="#56b98a"/>
<rect x="1302" y="201" width="5" height="27" fill="#c21a1a"/>
<rect x="1303" y="202" width="3" height="25" fill="#eb4d5c"/>
<rect x="1307" y="224" width="5" height="19" fill="#c21a1a"/>
<rect x="1308" y="225" width="3" height="17" fill="#eb4d5c"/>
<rect x="1313" y="233" width="5" height="14" fill="#c21a1a"/>
<rect x="1314" y="234" width="3" height="12" fill="#eb4d5c"/>
<rect x="1318" y="237" width="5" height="3" fill="#3b7f8c"/>
<rect x="1319" y="238" width="3" height="1" fill="#56b98a"/>
<rect x="1323" y="238" width="5" height="2" fill="#3b7f8c"/>
<rect x="1329" y="218" width="5" height="21" fill="#3b7f8c"/>
<rect x="1330" y="219" width="3" height="19" fill="#56b98a"/>
<polyline points="6.7,698.5 16.6,696.7 28.3,694.2 39.9,692.2 51.5,690.3 56.2,688.3 63.2,687.0 74.8,685.0 86.5,683.1 91.1,681.9 100.4,679.2 109.7,675.8 117.3,672.8 127.2,669.3 136.5,666.0 142.3,663.3 149.3,659.2 155.7,657.1 165.6,651.6 173.7,648.4 180.0,645.2 193.4,639.4 203.3,633.5 212.6,629.5 221.9,624.2 231.2,620.2 242.8,614.9 253.3,609.1 260.3,606.8 269.6,601.5 275.4,597.5 284.7,592.2 291.7,587.0 306.8,578.9 313.8,574.2 319.6,571.3 325.5,566.6 340.6,558.5 346.4,554.2 362.8,545.3 372.7,539.6 384.1,533.2 389.8,531.3 401.1,525.3 416.8,516.4 425.3,513.5 434.6,509.4 444.5,506.9 450.9,503.3 465.1,498.3 476.5,494.1 489.3,488.0 499.3,482.3 507.8,479.1 517.8,474.6 529.1,470.6 539.1,465.6 549.5,461.6 554.5,459.2 560.5,456.7 565.5,454.2 570.5,451.7 576.5,449.4 581.5,447.0 587.5,445.1 592.5,443.2 598.5,441.7 603.5,440.4 609.5,439.2 614.5,437.8 620.5,436.0 625.5,434.3 631.5,432.9 636.5,431.5 642.5,430.2 647.5,428.7 653.5,427.4 658.5,425.9 663.5,424.9 669.5,423.8 674.5,422.5 680.5,421.0 685.5,419.5 691.5,418.1 696.5,416.7 702.5,415.2 707.5,413.7 713.5,411.9 718.5,410.0 724.5,408.1 729.5,406.1 735.5,404.3 740.5,402.6 746.5,401.0 751.5,399.4 756.5,397.8 762.5,396.4 767.5,395.2 773.5,394.2 778.5,393.3 784.5,392.4 789.5,391.5 795.5,390.6 800.5,389.6 806.5,388.7 811.5,387.7 817.5,386.8 822.5,386.0 828.5,385.0 833.5,383.8 839.5,382.6 844.5,381.0 849.5,379.5 855.5,378.2 860.5,377.2 866.5,376.2 871.5,374.9 877.5,373.6 882.5,372.2 888.5,370.9 893.5,369.6 899.5,368.0 904.5,366.4 910.5,364.8 915.5,363.1 921.5,361.6 926.5,360.1 932.5,358.7 937.5,357.2 943.5,355.9 948.5,354.8 953.5,353.8 959.5,352.6 964.5,351.3 970.5,349.8 975.5,348.1 981.5,346.3 986.5,344.4 992.5,342.6 997.5,341.0 1003.5,339.3 1008.5,337.8 1014.5,336.6 1019.5,335.6 1025.5,334.9 1030.5,334.2 1036.5,333.7 1041.5,333.1 1046.5,332.2 1052.5,331.3 1057.5,330.3 1063.5,329.6 1068.5,328.7 1074.5,327.8 1079.5,326.9 1085.5,325.8 1090.5,324.9 1096.5,324.0 1101.5,322.9 1107.5,321.9 1112.5,321.1 1118.5,320.1 1123.5,319.0 1129.5,318.0 1134.5,317.0 1139.5,315.8 1145.5,314.4 1150.5,312.6 1156.5,310.6 1161.5,308.6 1167.5,306.9 1172.5,305.1 1178.5,303.1 1183.5,300.8 1189.5,298.5 1194.5,296.2 1200.5,293.8 1205.5,291.4 1211.5,288.5 1216.5,285.6 1222.5,282.7 1227.5,280.1 1232.5,277.1 1238.5,274.4 1243.5,271.6 1249.5,268.9 1254.5,266.7 1260.5,264.9 1265.5,263.6 1271.5,262.3 1276.5,261.0 1282.5,259.8 1287.5,258.6 1293.5,257.5 1298.5,256.3 1304.5,255.3 1309.5,254.1 1315.5,252.8 1320.5,251.3 1325.5,249.6 1331.5,247.8" fill="none" stroke="#a800ff" stroke-width="1"/>
<line x1="7" x2="1482" y1="218.5" y2="218.5" stroke="#3fae78" stroke-width="1" stroke-dasharray="2,1"/>
</g>
<g clip-path="url(#cr)"><polyline points="7.5,774.5 12.5,767.1 18.5,770.2 23.5,778.4 29.5,777.7 34.5,776.2 40.5,760.1 45.5,763.3 51.5,758.2 56.5,756.9 62.5,766.6 67.5,769.7 73.5,790.6 78.5,783.9 84.5,780.4 89.5,792.0 94.5,784.7 100.5,780.5 105.5,776.7 111.5,778.1 116.5,768.9 122.5,766.8 127.5,771.3 133.5,785.4 138.5,792.6 144.5,784.2 149.5,792.1 155.5,801.2 160.5,803.8 166.5,808.5 171.5,807.5 177.5,802.4 182.5,805.5 188.5,791.3 193.5,780.6 198.5,774.3 204.5,780.2 209.5,786.8 215.5,786.8 220.5,788.6 226.5,779.4 231.5,795.2 237.5,792.2 242.5,791.6 248.5,779.3 253.5,779.6 259.5,783.4 264.5,778.2 270.5,769.1 275.5,767.1 281.5,782.2 286.5,781.1 291.5,777.1 297.5,790.2 302.5,793.5 308.5,777.0 313.5,769.0 319.5,767.3 324.5,765.8 330.5,766.8 335.5,768.1 341.5,763.8 346.5,762.9 352.5,771.9 357.5,769.6 363.5,773.5 368.5,771.3 374.5,784.9 379.5,784.4 384.5,782.0 390.5,787.7 395.5,788.9 401.5,776.6 406.5,777.8 412.5,778.3 417.5,778.0 423.5,792.6 428.5,805.4 434.5,813.6 439.5,811.3 445.5,807.0 450.5,788.2 456.5,789.6 461.5,786.8 467.5,780.9 472.5,781.9 477.5,766.3 483.5,765.4 488.5,763.3 494.5,756.2 499.5,758.3 505.5,756.2 510.5,786.8 516.5,776.6 521.5,781.0 527.5,775.9 532.5,769.0 538.5,770.6 543.5,765.7 549.5,765.7 554.5,772.0 560.5,764.7 565.5,763.0 570.5,771.6 576.5,787.3 581.5,784.0 587.5,787.5 592.5,802.6 598.5,813.6 603.5,824.4 609.5,834.8 614.5,821.4 620.5,807.8 625.5,806.7 631.5,816.5 636.5,824.8 642.5,823.5 647.5,810.8 653.5,809.8 658.5,803.5 663.5,817.0 669.5,806.4 674.5,803.1 680.5,797.3 685.5,804.9 691.5,800.9 696.5,806.9 702.5,806.7 707.5,805.4 713.5,797.1 718.5,787.3 724.5,786.4 729.5,784.3 735.5,783.2 740.5,777.7 746.5,779.0 751.5,779.8 756.5,782.3 762.5,807.4 767.5,819.7 773.5,821.0 778.5,835.1 784.5,828.7 789.5,828.9 795.5,816.9 800.5,808.5 806.5,812.3 811.5,802.1 817.5,801.2 822.5,797.4 828.5,801.8 833.5,787.5 839.5,779.2 844.5,773.7 849.5,775.6 855.5,776.3 860.5,781.8 866.5,777.9 871.5,765.8 877.5,763.3 882.5,763.0 888.5,760.3 893.5,763.8 899.5,755.1 904.5,756.6 910.5,754.3 915.5,753.2 921.5,777.2 926.5,786.0 932.5,784.7 937.5,782.6 943.5,797.7 948.5,802.2 953.5,810.6 959.5,795.3 964.5,787.4 970.5,786.8 975.5,782.6 981.5,780.1 986.5,779.2 992.5,776.4 997.5,774.7 1003.5,781.2 1008.5,782.3 1014.5,808.3 1019.5,820.5 1025.5,818.8 1030.5,820.9 1036.5,828.9 1041.5,810.9 1046.5,798.5 1052.5,791.5 1057.5,801.3 1063.5,807.6 1068.5,800.1 1074.5,793.1 1079.5,788.8 1085.5,781.9 1090.5,784.4 1096.5,785.8 1101.5,779.9 1107.5,778.3 1112.5,783.1 1118.5,786.7 1123.5,779.4 1129.5,792.1 1134.5,791.9 1139.5,792.9 1145.5,785.8 1150.5,779.6 1156.5,773.0 1161.5,770.7 1167.5,771.1 1172.5,769.4 1178.5,766.0 1183.5,759.2 1189.5,764.3 1194.5,756.5 1200.5,752.8 1205.5,748.3 1211.5,744.1 1216.5,739.8 1222.5,739.7 1227.5,747.7 1232.5,744.3 1238.5,760.5 1243.5,764.5 1249.5,766.5 1254.5,804.3 1260.5,814.1 1265.5,827.3 1271.5,829.7 1276.5,818.0 1282.5,827.0 1287.5,817.4 1293.5,820.7 1298.5,816.5 1304.5,823.2 1309.5,828.3 1315.5,829.5 1320.5,824.1 1325.5,824.9 1331.5,812.8" fill="none" stroke="#9c27b0" stroke-width="1"/></g>
<g stroke="#4a4a4a" stroke-width="1" fill="none">
<rect x="6.5" y="43.5" width="1534" height="824"/>
<line x1="1483.5" x2="1483.5" y1="43.5" y2="848.5"/>
<line x1="6.5" x2="1540.5" y1="733.5" y2="733.5"/>
<line x1="6.5" x2="1483.5" y1="848.5" y2="848.5"/>
</g>
<line x1="1484" x2="1487" y1="46.5" y2="46.5" stroke="#4a4a4a"/>
<text x="1490.3" y="50.5" font-size="11" fill="#4a4a4a">37000.00</text>
<line x1="1484" x2="1487" y1="75.5" y2="75.5" stroke="#4a4a4a"/>
<text x="1490.3" y="79.5" font-size="11" fill="#4a4a4a">36500.00</text>
<line x1="1484" x2="1487" y1="123.5" y2="123.5" stroke="#4a4a4a"/>
<text x="1490.3" y="127.5" font-size="11" fill="#4a4a4a">35700.00</text>
<line x1="1484" x2="1487" y1="171.5" y2="171.5" stroke="#4a4a4a"/>
<text x="1490.3" y="175.5" font-size="11" fill="#4a4a4a">34900.00</text>
<line x1="1484" x2="1487" y1="221.5" y2="221.5" stroke="#4a4a4a"/>
<line x1="1484" x2="1487" y1="272.5" y2="272.5" stroke="#4a4a4a"/>
<text x="1490.3" y="276.5" font-size="11" fill="#4a4a4a">33300.00</text>
<line x1="1484" x2="1487" y1="324.5" y2="324.5" stroke="#4a4a4a"/>
<text x="1490.3" y="328.5" font-size="11" fill="#4a4a4a">32500.00</text>
<line x1="1484" x2="1487" y1="357.5" y2="357.5" stroke="#4a4a4a"/>
<text x="1490.3" y="361.5" font-size="11" fill="#4a4a4a">32000.00</text>
<line x1="1484" x2="1487" y1="391.5" y2="391.5" stroke="#4a4a4a"/>
<text x="1490.3" y="395.5" font-size="11" fill="#4a4a4a">31500.00</text>
<line x1="1484" x2="1487" y1="432.5" y2="432.5" stroke="#4a4a4a"/>
<text x="1490.3" y="436.5" font-size="11" fill="#4a4a4a">30900.00</text>
<line x1="1484" x2="1487" y1="460.5" y2="460.5" stroke="#4a4a4a"/>
<text x="1490.3" y="464.5" font-size="11" fill="#4a4a4a">30500.00</text>
<line x1="1484" x2="1487" y1="488.5" y2="488.5" stroke="#4a4a4a"/>
<text x="1490.3" y="492.5" font-size="11" fill="#4a4a4a">30100.00</text>
<line x1="1484" x2="1487" y1="517.5" y2="517.5" stroke="#4a4a4a"/>
<text x="1490.3" y="521.5" font-size="11" fill="#4a4a4a">29700.00</text>
<line x1="1484" x2="1487" y1="546.5" y2="546.5" stroke="#4a4a4a"/>
<text x="1490.3" y="550.5" font-size="11" fill="#4a4a4a">29300.00</text>
<line x1="1484" x2="1487" y1="576.5" y2="576.5" stroke="#4a4a4a"/>
<text x="1490.3" y="580.5" font-size="11" fill="#4a4a4a">28900.00</text>
<line x1="1484" x2="1487" y1="606.5" y2="606.5" stroke="#4a4a4a"/>
<text x="1490.3" y="610.5" font-size="11" fill="#4a4a4a">28500.00</text>
<line x1="1484" x2="1487" y1="636.5" y2="636.5" stroke="#4a4a4a"/>
<text x="1490.3" y="640.5" font-size="11" fill="#4a4a4a">28100.00</text>
<line x1="1484" x2="1487" y1="667.5" y2="667.5" stroke="#4a4a4a"/>
<text x="1490.3" y="671.5" font-size="11" fill="#4a4a4a">27700.00</text>
<line x1="1484" x2="1487" y1="695.5" y2="695.5" stroke="#4a4a4a"/>
<text x="1490.3" y="699.5" font-size="11" fill="#4a4a4a">27340.00</text>
<line x1="1484" x2="1487" y1="723.5" y2="723.5" stroke="#4a4a4a"/>
<text x="1490.3" y="727.5" font-size="11" fill="#4a4a4a">26980.00</text>
<line x1="1484" x2="1487" y1="750.5" y2="750.5" stroke="#4a4a4a"/>
<text x="1490.3" y="754.5" font-size="11" fill="#4a4a4a">80.0000</text>
<line x1="1484" x2="1487" y1="786.5" y2="786.5" stroke="#4a4a4a"/>
<text x="1490.3" y="790.5" font-size="11" fill="#4a4a4a">60.0000</text>
<line x1="1484" x2="1487" y1="822.5" y2="822.5" stroke="#4a4a4a"/>
<text x="1490.3" y="826.5" font-size="11" fill="#4a4a4a">40.0000</text>
<g clip-path="url(#ct)">
<line x1="117.5" x2="117.5" y1="849" y2="852" stroke="#4a4a4a"/>
<text x="117.4" y="862.8" font-size="11" fill="#4a4a4a" text-anchor="middle">Apr</text>
<line x1="216.5" x2="216.5" y1="849" y2="852" stroke="#4a4a4a"/>
<text x="216.4" y="862.8" font-size="11" fill="#4a4a4a" text-anchor="middle">May</text>
<line x1="336.5" x2="336.5" y1="849" y2="852" stroke="#4a4a4a"/>
<text x="336.2" y="862.8" font-size="11" fill="#4a4a4a" text-anchor="middle">Jun</text>
<line x1="451.5" x2="451.5" y1="849" y2="852" stroke="#4a4a4a"/>
<text x="451.3" y="862.8" font-size="11" fill="#4a4a4a" text-anchor="middle">Jul</text>
<line x1="566.5" x2="566.5" y1="849" y2="852" stroke="#4a4a4a"/>
<text x="566.3" y="862.8" font-size="11" fill="#4a4a4a" text-anchor="middle">Aug</text>
<line x1="681.5" x2="681.5" y1="849" y2="852" stroke="#4a4a4a"/>
<text x="681.4" y="862.8" font-size="11" fill="#4a4a4a" text-anchor="middle">Sep</text>
<line x1="796.5" x2="796.5" y1="849" y2="852" stroke="#4a4a4a"/>
<text x="796.2" y="862.8" font-size="11" fill="#4a4a4a" text-anchor="middle">Oct</text>
<line x1="900.5" x2="900.5" y1="849" y2="852" stroke="#4a4a4a"/>
<text x="900.4" y="862.8" font-size="11" fill="#4a4a4a" text-anchor="middle">Nov</text>
<line x1="1020.5" x2="1020.5" y1="849" y2="852" stroke="#4a4a4a"/>
<text x="1020.4" y="862.8" font-size="11" fill="#4a4a4a" text-anchor="middle">Dec</text>
<line x1="1130.5" x2="1130.5" y1="849" y2="852" stroke="#4a4a4a"/>
<text x="1130.5" y="862.8" font-size="11" font-weight="bold" fill="#4a4a4a" text-anchor="middle">2018</text>
<line x1="1250.5" x2="1250.5" y1="849" y2="852" stroke="#4a4a4a"/>
<text x="1250.5" y="862.8" font-size="11" fill="#4a4a4a" text-anchor="middle">Feb</text>
<line x1="1354.5" x2="1354.5" y1="849" y2="852" stroke="#4a4a4a"/>
<text x="1354.5" y="862.8" font-size="11" fill="#4a4a4a" text-anchor="middle">Mar</text>
<line x1="1474.5" x2="1474.5" y1="849" y2="852" stroke="#4a4a4a"/>
<text x="1474.4" y="862.8" font-size="11" fill="#4a4a4a" text-anchor="middle">Apr</text>
</g>
<rect x="1483" y="211" width="57" height="16" fill="#53b987"/>
<line x1="1483" x2="1487" y1="218.5" y2="218.5" stroke="#fff"/>
<text x="1490.1" y="222.8" font-size="11" fill="#fff">34142.15</text>
<text x="15.6" y="64.9" font-size="12.5" font-weight="bold" fill="#555" textLength="184.6" lengthAdjust="spacingAndGlyphs">BSE 30 Sensex Index, 1D, INDEX</text>
<text x="15.6" y="81.6" font-size="12.5" fill="#555" stroke="#555" stroke-width="0.2" textLength="86" lengthAdjust="spacingAndGlyphs">MA (100, close)</text>
<text x="15.3" y="755.6" font-size="12.5" fill="#555" stroke="#555" stroke-width="0.2" textLength="77.3" lengthAdjust="spacingAndGlyphs">RSI (14, close)</text>
<text x="6.5" y="891.1" font-size="13" fill="#131722" stroke="#131722" stroke-width="0.3" textLength="72.4" lengthAdjust="spacingAndGlyphs">Created with</text>
<text x="118.9" y="891.1" font-size="13" fill="#3bb3e4" stroke="#3bb3e4" stroke-width="0.3" textLength="69.9" lengthAdjust="spacingAndGlyphs">TradingView</text>
<g fill="#5bc0e6"><circle cx="92.2" cy="888.1" r="3.9"/><circle cx="98.3" cy="883.7" r="6"/><circle cx="104.6" cy="885.6" r="4"/><circle cx="108.2" cy="888.2" r="3.8"/><rect x="92.2" y="885" width="16" height="7"/></g><polyline points="88.2,889.9 96.5,883.2 102.1,889.4 110,882" stroke="#f0f3f6" stroke-width="1.7" fill="none" stroke-linejoin="round"/>
</svg></body></html>
